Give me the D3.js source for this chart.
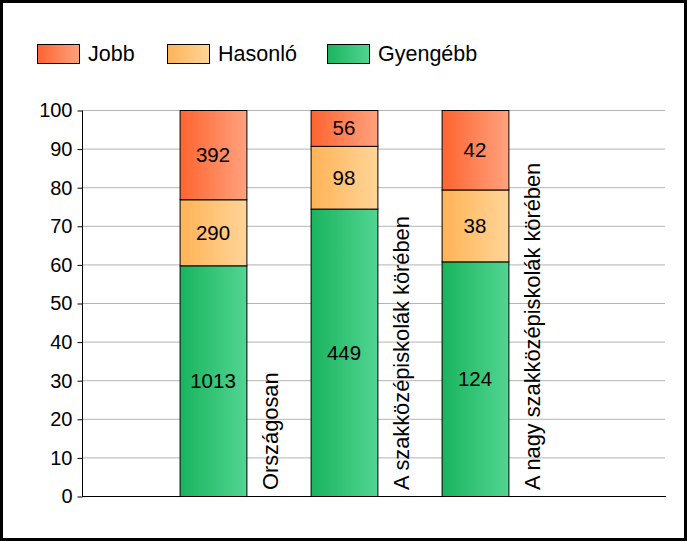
<!DOCTYPE html>
<html>
<head>
<meta charset="utf-8">
<script src="https://cdn.jsdelivr.net/npm/d3@7/dist/d3.min.js"></script>
<style>
  body { margin: 0; background: #fff; }
  svg { display: block; font-family: "Liberation Sans", Arial, sans-serif; }
</style>
</head>
<body>
<svg id="chart" width="687" height="541"></svg>
<script>
'use strict';

var categories = ["Országosan", "A szakközépiskolák körében", "A nagy szakközépiskolák körében"];
var seriesNames = ["Gyengébb", "Hasonló", "Jobb"];
var gyengebb = [1013, 449, 124];
var hasonlo = [290, 98, 38];
var jobb = [392, 56, 42];
var yTicks = [0, 10, 20, 30, 40, 50, 60, 70, 80, 90, 100];
var legendOrder = ["Jobb", "Hasonló", "Gyengébb"];

var gradColors = {
  "Jobb": ["#ff6430", "#ffa27e"],
  "Hasonló": ["#ffb356", "#ffd598"],
  "Gyengébb": ["#19b45e", "#52d592"]
};

(function() {
  var svg = d3.select("#chart");
  var W = 687, H = 541;

  svg.append("rect")
    .attr("x", 1.5).attr("y", 1.5)
    .attr("width", W - 3).attr("height", H - 3)
    .attr("fill", "#fff")
    .attr("stroke", "#000")
    .attr("stroke-width", 3);

  var defs = svg.append("defs");
  seriesNames.forEach(function(name, i) {
    var g = defs.append("linearGradient")
      .attr("id", "grad" + i)
      .attr("x1", "0%").attr("y1", "0%")
      .attr("x2", "100%").attr("y2", "0%");
    g.append("stop").attr("offset", "0%").attr("stop-color", gradColors[name][0]);
    g.append("stop").attr("offset", "100%").attr("stop-color", gradColors[name][1]);
  });

  var plotLeft = 82, plotRight = 665, plotTop = 110, plotBottom = 496;

  var y = d3.scaleLinear().domain([0, 100]).range([plotBottom, plotTop]);
  var x = d3.scaleBand()
    .domain(categories)
    .range([147.5, 540.5])
    .paddingInner(0.49)
    .paddingOuter(0.245);

  // grid
  svg.append("g")
    .selectAll("line")
    .data(yTicks.filter(function(t) { return t > 0; }))
    .enter().append("line")
    .attr("x1", plotLeft).attr("x2", plotRight)
    .attr("y1", function(d) { return y(d) + 0.5; })
    .attr("y2", function(d) { return y(d) + 0.5; })
    .attr("stroke", "#b4b4b4")
    .attr("stroke-width", 1);

  // y axis
  var yAxis = d3.axisLeft(y).tickValues(yTicks).tickSize(5).tickPadding(5);
  var gy = svg.append("g")
    .attr("transform", "translate(" + (plotLeft + 0.5) + ",0.5)")
    .call(yAxis);
  gy.select(".domain").attr("stroke", "#000").attr("d", "M0," + plotTop + "V" + plotBottom);
  gy.selectAll(".tick line").attr("stroke", "#000");
  gy.selectAll(".tick text")
    .attr("font-size", 20)
    .attr("font-family", "Liberation Sans, Arial, sans-serif")
    .attr("fill", "#000");

  // stacked data
  var rows = categories.map(function(c, i) {
    var total = gyengebb[i] + hasonlo[i] + jobb[i];
    return {
      cat: c,
      counts: { "Gyengébb": gyengebb[i], "Hasonló": hasonlo[i], "Jobb": jobb[i] },
      "Gyengébb": gyengebb[i] / total * 100,
      "Hasonló": hasonlo[i] / total * 100,
      "Jobb": jobb[i] / total * 100
    };
  });
  var layers = d3.stack().keys(seriesNames)(rows);

  var gl = svg.append("g").selectAll("g")
    .data(layers)
    .enter().append("g")
    .attr("fill", function(d, i) { return "url(#grad" + i + ")"; });

  gl.selectAll("rect")
    .data(function(d) { return d; })
    .enter().append("rect")
    .attr("x", function(d) { return x(d.data.cat) + 0.5; })
    .attr("width", x.bandwidth())
    .attr("y", function(d) { return y(d[1]) + 0.5; })
    .attr("height", function(d) { return y(d[0]) - y(d[1]); })
    .attr("stroke", "#000")
    .attr("stroke-width", 1);

  gl.each(function(layer) {
    d3.select(this).selectAll("text")
      .data(layer)
      .enter().append("text")
      .attr("x", function(d) { return x(d.data.cat) + x.bandwidth() / 2; })
      .attr("y", function(d) { return (y(d[0]) + y(d[1])) / 2; })
      .attr("dy", "0.36em")
      .attr("text-anchor", "middle")
      .attr("font-size", 20.5)
      .attr("fill", "#000")
      .text(function(d) { return d.data.counts[layer.key]; });
  });

  // x axis line
  svg.append("line")
    .attr("x1", plotLeft).attr("x2", plotRight + 1)
    .attr("y1", plotBottom + 0.5).attr("y2", plotBottom + 0.5)
    .attr("stroke", "#000");

  // category labels, rotated beside the bars
  svg.append("g").selectAll("text")
    .data(categories)
    .enter().append("text")
    .attr("transform", function(d) {
      return "translate(" + (x(d) + x.bandwidth() + 32) + ",490) rotate(-90)";
    })
    .attr("font-size", 21.8)
    .attr("fill", "#000")
    .text(function(d) { return d; });

  // legend
  var legendX = [37, 167, 327];
  var lg = svg.append("g").selectAll("g")
    .data(legendOrder)
    .enter().append("g")
    .attr("transform", function(d, i) { return "translate(" + legendX[i] + ",44)"; });
  lg.append("rect")
    .attr("x", 0.5).attr("y", 0.5)
    .attr("width", 42).attr("height", 19)
    .attr("fill", function(d) { return "url(#grad" + seriesNames.indexOf(d) + ")"; })
    .attr("stroke", "#000");
  lg.append("text")
    .attr("x", 51).attr("y", 17)
    .attr("font-size", 21.5)
    .attr("fill", "#000")
    .text(function(d) { return d; });
})();
</script>
</body>
</html>
